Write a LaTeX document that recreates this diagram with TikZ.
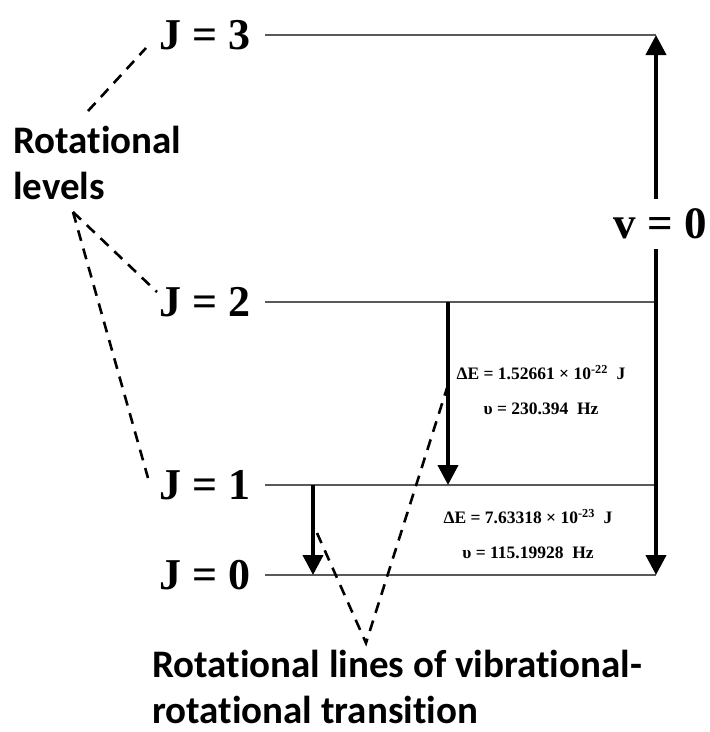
\documentclass[tikz,border=0pt]{standalone}
\usepackage{fontspec}
\setmainfont{Liberation Serif}
\newfontfamily\labelfont[Ligatures=NoCommon]{Carlito}
\usetikzlibrary{positioning,arrows.meta}

\begin{document}
\begin{tikzpicture}[x=1pt,y=-1pt,
  level/.style={draw=black!65,line width=1.3pt},
  jlab/.style={font=\fontsize{44}{44}\selectfont\bfseries,inner sep=0pt},
  trans/.style={line width=4pt,-{Triangle[length=20pt,width=20pt]}},
  note/.style={font=\fontsize{17.5}{35}\selectfont\bfseries,align=center,inner sep=0pt},
  callout/.style={font=\labelfont\bfseries\fontsize{39}{46}\selectfont,align=left,inner sep=0pt},
  guide/.style={line width=2.6pt,dash pattern=on 11pt off 8pt}]
  \useasboundingbox (0,0) rectangle (710,732);
  % rotational levels J = 0..3
  \foreach \j/\y in {3/35,2/302,1/485,0/575}{
    \coordinate (a\j) at (265,\y);
    \coordinate (b\j) at (656,\y);
    \draw[level] (a\j) -- (b\j);
    \node[jlab,left=14pt of a\j] (J\j) {J = \j};
  }
  % vibrational level v = 0
  \node[font=\fontsize{45}{45}\selectfont\bfseries,inner xsep=0pt,inner ysep=10pt]
    (v0) at (660,224) {v = 0};
  \draw[trans] (b3 |- v0.north) -- (b3);
  \draw[trans] (b0 |- v0.south) -- (b0);
  % transitions
  \draw[trans] ([xshift=183pt]a2) -- ([xshift=183pt]a1);
  \draw[trans] ([xshift=48pt]a1) -- ([xshift=48pt]a0);
  \node[note] (e21) at (541,390) {ΔE = 1.52661 × 10\textsuperscript{-22}\enspace J\\υ = 230.394\enspace Hz};
  \node[note] (e10) at (528,534) {ΔE = 7.63318 × 10\textsuperscript{-23}\enspace J\\υ = 115.19928\enspace Hz};
  % labels
  \node[callout,anchor=north west] (rot) at (13,126) {Rotational\\levels};
  \node[callout,anchor=north west] (rotlines) at (152,650) {Rotational lines of vibrational-\\rotational transition};
  % dashed guides
  \coordinate (g3) at (88,111);
  \coordinate (g12) at (73,212);
  \coordinate (h3) at (146,48);
  \coordinate (h2) at (157,292);
  \coordinate (h1) at (148,478);
  \coordinate (vtip) at (366,643);
  \coordinate (v10) at (317,533);
  \coordinate (v21) at (447,388);
  \draw[guide] (g3) -- (h3);
  \draw[guide] (g12) -- (h2);
  \draw[guide] (g12) -- (h1);
  \draw[guide] (v10) -- (vtip) -- (v21);
\end{tikzpicture}
\end{document}
